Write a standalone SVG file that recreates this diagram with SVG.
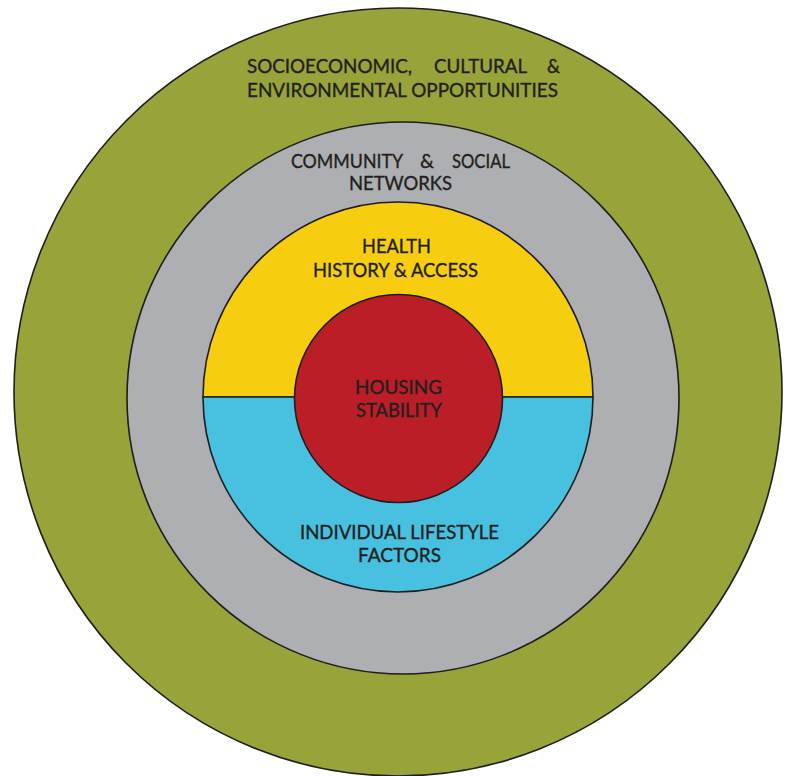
<svg xmlns="http://www.w3.org/2000/svg" width="790" height="776" viewBox="0 0 790 776">
<style>
.ring{stroke:#1e1e1e;stroke-width:1.6}
.t{font-family:Lato,"Open Sans","Liberation Sans",sans-serif;font-size:18.5px;fill:#231f20;stroke:#231f20;stroke-width:0.35;text-anchor:start}
</style>
<rect width="790" height="776" fill="#ffffff"/>
<g id="socioeconomic">
<circle class="ring" cx="398" cy="392" r="384" fill="#98a33a"/>
<text class="t"><tspan x="247" y="73" textLength="165" lengthAdjust="spacingAndGlyphs">SOCIOECONOMIC,</tspan><tspan x="434" y="73" textLength="93" lengthAdjust="spacingAndGlyphs">CULTURAL</tspan><tspan x="547" y="73" textLength="13" lengthAdjust="spacingAndGlyphs">&amp;</tspan></text>
<text class="t" x="247" y="97" textLength="311" lengthAdjust="spacingAndGlyphs">ENVIRONMENTAL OPPORTUNITIES</text>
</g>
<g id="community">
<circle class="ring" cx="403" cy="398" r="276" fill="#aeafb3"/>
<text class="t"><tspan x="291" y="168" textLength="112" lengthAdjust="spacingAndGlyphs">COMMUNITY</tspan><tspan x="420" y="168" textLength="14" lengthAdjust="spacingAndGlyphs">&amp;</tspan><tspan x="452" y="168" textLength="58" lengthAdjust="spacingAndGlyphs">SOCIAL</tspan></text>
<text class="t" x="349" y="190" textLength="103" lengthAdjust="spacingAndGlyphs">NETWORKS</text>
</g>
<g id="health">
<path class="ring" d="M203,397 A195,195 0 0 1 593,397 Z" fill="#f7cd10"/>
<text class="t" x="362" y="253" textLength="69" lengthAdjust="spacingAndGlyphs">HEALTH</text>
<text class="t" x="313" y="277" textLength="165" lengthAdjust="spacingAndGlyphs">HISTORY &amp; ACCESS</text>
</g>
<g id="individual">
<path class="ring" d="M203,397 A195,195 0 0 0 593,397 Z" fill="#48c0e0"/>
<text class="t" x="300" y="539" textLength="199" lengthAdjust="spacingAndGlyphs">INDIVIDUAL LIFESTYLE</text>
<text class="t" x="358" y="562" textLength="83" lengthAdjust="spacingAndGlyphs">FACTORS</text>
</g>
<g id="housing">
<circle class="ring" cx="398.5" cy="398.5" r="104" fill="#bb1e27"/>
<text class="t" x="355" y="394" textLength="87" lengthAdjust="spacingAndGlyphs">HOUSING</text>
<text class="t" x="356" y="417" textLength="86" lengthAdjust="spacingAndGlyphs">STABILITY</text>
</g>
<g id="connectors"></g>
</svg>
